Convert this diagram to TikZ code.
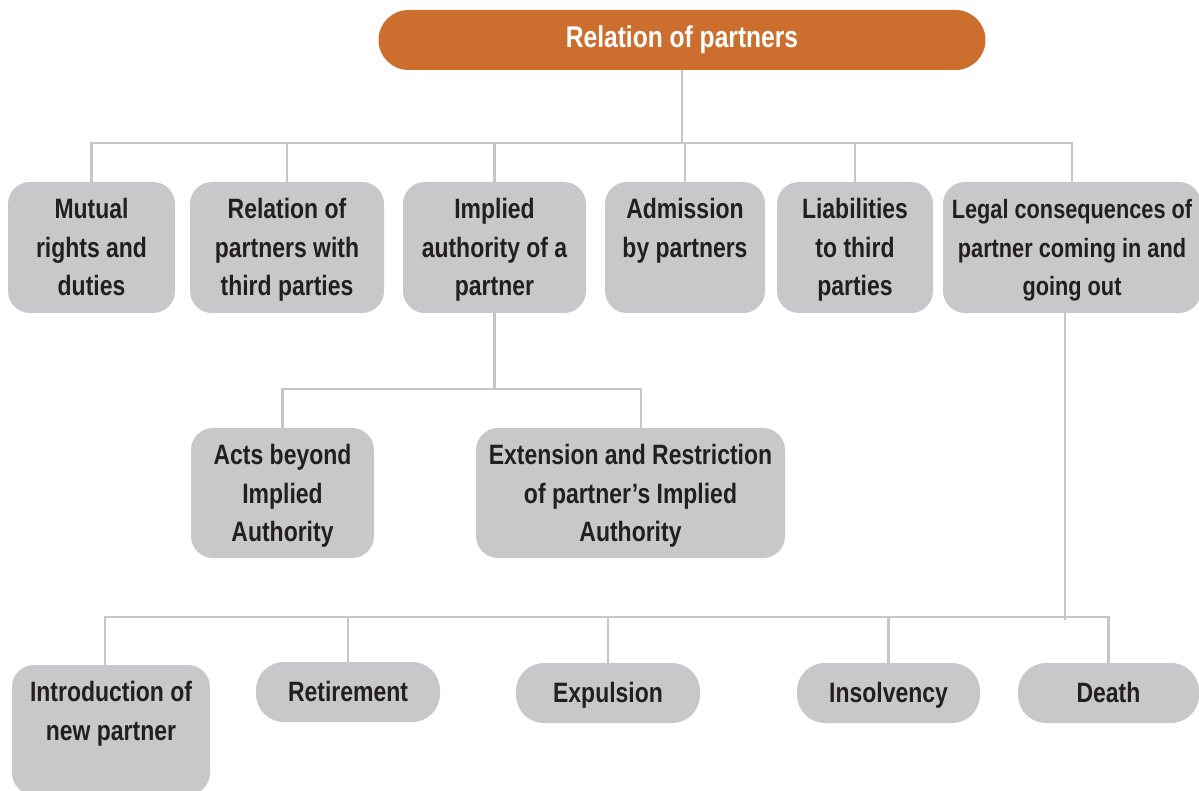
\documentclass[tikz,border=0pt]{standalone}
\usepackage{fontspec}
\setmainfont{Liberation Sans}[FakeStretch=0.82]
\definecolor{boxgray}{HTML}{C7C8CA}
\definecolor{topor}{HTML}{CC6F2E}
\definecolor{linegray}{HTML}{C6C6C6}
\definecolor{textdark}{HTML}{231F20}
\newcommand\bxfont{\fontsize{28}{38.5}\selectfont\bfseries}
\newcommand\lgfont{\fontsize{26.5}{38.5}\selectfont\bfseries}
\newcommand\tpfont{\fontsize{30}{36}\selectfont\bfseries}
\newcommand\bxtop{\rule{0pt}{29pt}}
\newcommand\bxbot{\rule[-9pt]{0pt}{9pt}}
\newcommand\plstrut{\rule[-9.5pt]{0pt}{38.5pt}}
\begin{document}
\begin{tikzpicture}[x=1pt,y=-1pt,
  basebox/.style={fill=boxgray, inner sep=0pt, align=center,
    font=\bxfont, text=textdark},
  box/.style={basebox, rounded corners=22pt, minimum height=131pt,
    execute at end node=\bxbot},
  pill/.style={basebox, minimum height=60pt, rounded corners=28pt,
    execute at begin node=\plstrut, execute at end node=\plstrut},
  conn/.style={draw=linegray, line width=2.5pt}]
\useasboundingbox (0,0) rectangle (1199,791);
% top
\node[fill=topor, rounded corners=30pt, minimum width=607pt, minimum height=60pt,
  inner sep=0pt, text=white, font=\tpfont] (top) at (682,40) {Relation of partners};
% row 1
\node[box, minimum width=167pt] (m1) at (91.5,247.5) {\bxtop Mutual\\rights and\\duties};
\node[box, minimum width=194pt] (m2) at (287,247.5) {\bxtop Relation of\\partners with\\third parties};
\node[box, minimum width=183pt] (m3) at (494.5,247.5) {\bxtop Implied\\authority of a\\partner};
\node[box, minimum width=160pt] (m4) at (685,247.5) {\bxtop Admission\\by partners\\~};
\node[box, minimum width=156pt] (m5) at (855,247.5) {\bxtop Liabilities\\to third\\parties};
\node[box, minimum width=258pt, font=\lgfont] (m6) at (1072,247.5) {\bxtop Legal consequences of\\partner coming in and\\going out};
% row 2
\node[box, minimum width=183pt, minimum height=130pt] (a1) at (282.5,493) {\bxtop Acts beyond\\Implied\\Authority};
\node[box, minimum width=309pt, minimum height=130pt] (a2) at (630.5,493) {\bxtop Extension and Restriction\\of partner’s Implied\\Authority};
% row 3
\node[box, minimum width=198pt, minimum height=130pt] (b1) at (111,730) {\bxtop Introduction of\\new partner\\~};
\node[pill, minimum width=184pt] (b2) at (348,692) {Retirement};
\node[pill, minimum width=184pt] (b3) at (608,693) {Expulsion};
\node[pill, minimum width=183pt] (b4) at (888.5,693) {Insolvency};
\node[pill, minimum width=181pt] (b5) at (1108.5,693) {Death};
% buses
\coordinate (bus1) at (0,143);
\coordinate (bus2) at (0,389);
\coordinate (bus3) at (0,617);
\coordinate (d6) at (1065,313);
\coordinate (d6e) at (1065,620);
\coordinate (a2t) at (641,428);
\coordinate (b1t) at (105,665);
% connectors
\draw[conn] (top.south) -- (top.south |- bus1);
\draw[conn] (m1.north) -- (m1.north |- bus1) -- (m6.north |- bus1) -- (m6.north);
\foreach \n in {m2,m3,m4,m5} \draw[conn] (\n.north) -- (\n.north |- bus1);
\draw[conn] (m3.south) -- (m3.south |- bus2);
\draw[conn] (a1.north) -- (a1.north |- bus2) -- (a2t |- bus2) -- (a2t);
\draw[conn] (d6) -- (d6e);
\draw[conn] (b1t) -- (b1t |- bus3) -- (b5.north |- bus3) -- (b5.north);
\foreach \n in {b2,b3,b4} \draw[conn] (\n.north) -- (\n.north |- bus3);
\end{tikzpicture}
\end{document}
